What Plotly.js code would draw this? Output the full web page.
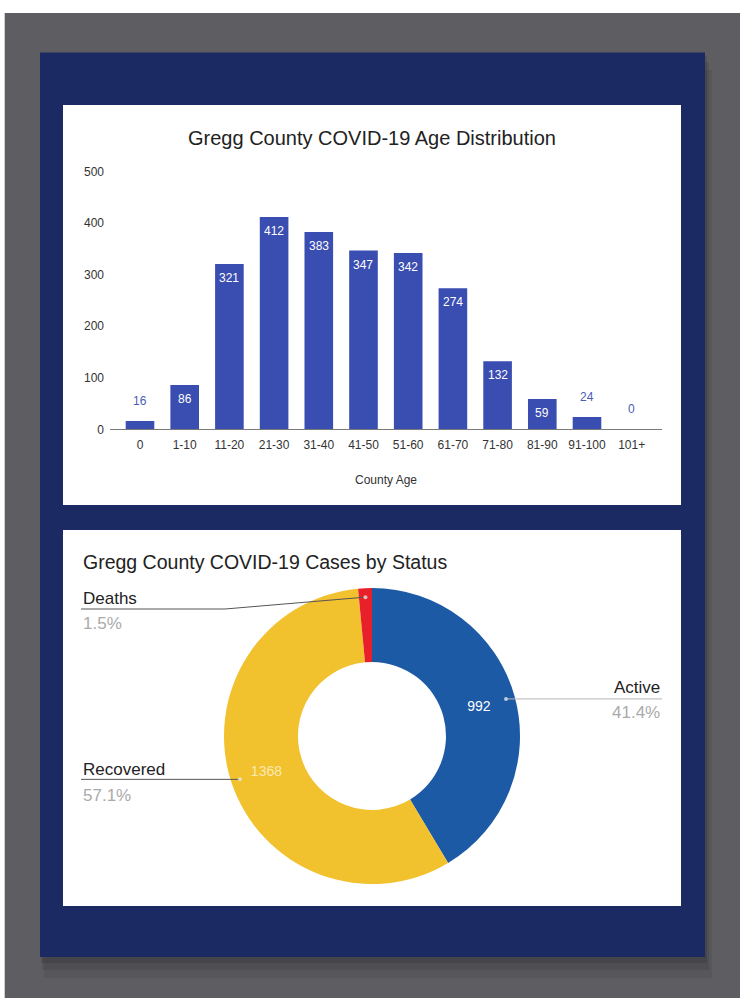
<!DOCTYPE html>
<html><head><meta charset="utf-8">
<script src="https://cdn.plot.ly/plotly-3.0.1.min.js"></script>
<style>html,body{margin:0;padding:0;background:#fff;}#chart{width:740px;height:998px;}</style>
</head><body><div id="chart"></div>
<script>
// ---- data ----
const ageGroups = ['0','1-10','11-20','21-30','31-40','41-50','51-60','61-70','71-80','81-90','91-100','101+'];
const ageCases = [16,86,321,412,383,347,342,274,132,59,24,0];
const yTickValues = [0,100,200,300,400,500];
const statusLabels = ['Active','Recovered','Deaths'];
const statusCases = [992,1368,36];
const statusColors = ['#1d5aa5','#f2c12e','#e8202a'];

// ---- helpers: pixel -> paper ----
const W = 740, H = 998;
const X = px => px / W;
const Y = py => 1 - py / H;
const FONT = 'Liberation Sans, Arial, sans-serif';

// ---- panels ----
const shapes = [
  {type:'rect', xref:'paper', yref:'paper', x0:X(4.7), x1:X(740), y0:Y(998), y1:Y(13), fillcolor:'#5e5d62', line:{width:0}, layer:'below'},
  {type:'rect', xref:'paper', yref:'paper', x0:X(44), x1:X(712), y0:Y(978), y1:Y(70), fillcolor:'rgba(0,0,0,0.07)', line:{width:0}, layer:'below'},
  {type:'rect', xref:'paper', yref:'paper', x0:X(42), x1:X(709), y0:Y(970), y1:Y(62), fillcolor:'rgba(0,0,0,0.09)', line:{width:0}, layer:'below'},
  {type:'rect', xref:'paper', yref:'paper', x0:X(41), x1:X(707), y0:Y(963), y1:Y(56), fillcolor:'rgba(0,0,0,0.11)', line:{width:0}, layer:'below'},
  {type:'rect', xref:'paper', yref:'paper', x0:X(40), x1:X(705), y0:Y(957), y1:Y(52.5), fillcolor:'#1b2a62', line:{width:0}, layer:'below'},
  {type:'rect', xref:'paper', yref:'paper', x0:X(63), x1:X(681), y0:Y(505), y1:Y(105), fillcolor:'#ffffff', line:{width:0}, layer:'below'},
  {type:'rect', xref:'paper', yref:'paper', x0:X(63), x1:X(681), y0:Y(906), y1:Y(530), fillcolor:'#ffffff', line:{width:0}, layer:'below'}
];

// ---- bar labels ----
const annotations = [];
ageCases.forEach((v, i) => {
  const inside = v >= 50;
  annotations.push({
    x: ageGroups[i], y: v, xref:'x', yref:'y', text: String(v), showarrow:false,
    yshift: inside ? -14 : 20,
    font:{family:FONT, size:12, color: inside ? '#ffffff' : '#4a5db8'}
  });
});

// titles
annotations.push({xref:'paper', yref:'paper', x:X(372), y:Y(138), text:'Gregg County COVID-19 Age Distribution',
  showarrow:false, xanchor:'center', yanchor:'middle', font:{family:FONT, size:20, color:'#222'}});
annotations.push({xref:'paper', yref:'paper', x:X(81), y:Y(562), text:'Gregg County COVID-19 Cases by Status',
  showarrow:false, xanchor:'left', yanchor:'middle', font:{family:FONT, size:19.5, color:'#222'}});

// ---- pie geometry ----
const cx = 372, cy = 736, R = 148;
const total = statusCases.reduce((a,b)=>a+b,0);
let cum = 0;
const dots = statusCases.map(v => {
  const mid = (cum + v/2) / total * 2 * Math.PI;
  cum += v;
  const r = R - 9;
  return [cx + r*Math.sin(mid), cy - r*Math.cos(mid)];
});
const pct = statusCases.map(v => (v/total*100).toFixed(1) + '%');

const labelPos = {
  'Active':    {x:662, anchor:'right', y:687, lineY:698, pctY:712},
  'Recovered': {x:81,  anchor:'left',  y:769, lineY:782, pctY:795},
  'Deaths':    {x:81,  anchor:'left',  y:598, lineY:609, pctY:623, elbow:225}
};
const lineColors = {'Active':'#b5b5b5','Recovered':'#555555','Deaths':'#555555'};

statusLabels.forEach((name, i) => {
  const p = labelPos[name];
  const [dx, dy] = dots[i];
  annotations.push({xref:'paper', yref:'paper', x:X(p.x), y:Y(p.y), text:name, showarrow:false,
    xanchor:p.anchor, yanchor:'middle', font:{family:FONT, size:17, color:'#222'}});
  annotations.push({xref:'paper', yref:'paper', x:X(p.x), y:Y(p.pctY), text:pct[i], showarrow:false,
    xanchor:p.anchor, yanchor:'middle', font:{family:FONT, size:17, color:'#aaaaaa'}});
  if (p.elbow !== undefined) {
    shapes.push({type:'line', xref:'paper', yref:'paper', x0:X(p.x), x1:X(p.elbow), y0:Y(p.lineY), y1:Y(p.lineY), line:{color:lineColors[name], width:1}});
    shapes.push({type:'line', xref:'paper', yref:'paper', x0:X(p.elbow), x1:X(dx), y0:Y(p.lineY), y1:Y(dy), line:{color:lineColors[name], width:1}});
  } else {
    shapes.push({type:'line', xref:'paper', yref:'paper', x0:X(p.x), x1:X(dx), y0:Y(dy), y1:Y(dy), line:{color:lineColors[name], width:1}});
  }
  shapes.push({type:'circle', xref:'paper', yref:'paper', x0:X(dx-2), x1:X(dx+2), y0:Y(dy+2), y1:Y(dy-2),
    fillcolor:'rgba(235,235,235,0.75)', line:{width:0}});
});

// ---- traces ----
const barTrace = {
  type:'bar', x: ageGroups, y: ageCases, xaxis:'x', yaxis:'y',
  marker:{color:'#3a4db0'}, width:0.64, hoverinfo:'x+y'
};
const pieTrace = {
  type:'pie', labels: statusLabels, values: statusCases, hole:0.5, sort:false,
  direction:'clockwise', rotation:0,
  marker:{colors: statusColors, line:{width:0}},
  text: statusCases.map(v => (v/total < 0.05 ? '' : String(v))),
  textinfo:'text', textposition:'inside', insidetextorientation:'horizontal',
  insidetextfont:{family:FONT, size:14, color:['#ffffff','#fbe9b4','#ffffff']},
  domain:{x:[X(cx-R), X(cx+R)], y:[Y(cy+R), Y(cy-R)]},
  showlegend:false, hoverinfo:'label+value+percent'
};

const layout = {
  width: W, height: H, margin:{l:0,r:0,t:0,b:0},
  paper_bgcolor:'#ffffff', plot_bgcolor:'rgba(0,0,0,0)',
  showlegend:false,
  font:{family:FONT, color:'#444'},
  xaxis:{
    domain:[X(110), X(662)], type:'category', range:[-0.671, 11.678],
    showgrid:false, zeroline:false, showline:true, linecolor:'#7a7a7a', linewidth:1,
    ticks:'', ticklabelstandoff:4, tickfont:{family:FONT, size:12, color:'#333'},
    title:{text:'County Age', font:{family:FONT, size:12, color:'#333'}, standoff:24},
    fixedrange:true
  },
  yaxis:{
    domain:[Y(429.3), Y(171.7)], range:[0,500], tickvals: yTickValues,
    showgrid:false, zeroline:false, showline:false, ticks:'', ticklabelstandoff:5,
    tickfont:{family:FONT, size:12, color:'#333'}, fixedrange:true
  },
  shapes: shapes,
  annotations: annotations
};

Plotly.newPlot('chart', [barTrace, pieTrace], layout, {displayModeBar:false, staticPlot:true});
</script>
</body></html>
